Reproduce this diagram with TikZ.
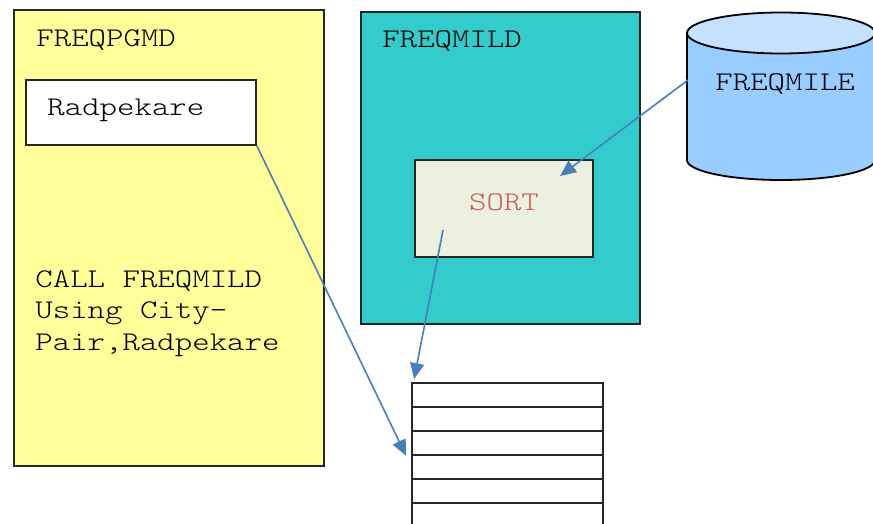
\documentclass[tikz,border=0pt]{standalone}
\usepackage{fontspec}
\setmonofont{lmmonolt10-regular.otf}[FakeStretch=1.23]
\usepackage{xcolor}
\usetikzlibrary{arrows.meta,fit}

\definecolor{pgmdyellow}{HTML}{FFFF99}
\definecolor{mildteal}{HTML}{33CCCC}
\definecolor{sortfill}{HTML}{EBF0DF}
\definecolor{sorttext}{HTML}{C86060}
\definecolor{cylbody}{HTML}{99CCFF}
\definecolor{cyltop}{HTML}{C4E1FF}
\definecolor{flowblue}{HTML}{4A7EBB}

\begin{document}
\begin{tikzpicture}[x=0.5pt,y=-0.5pt,
    box/.style={draw=black!85,line width=0.9pt,inner sep=0pt},
    lbl/.style={inner sep=0pt,anchor=base west,font=\ttfamily\fontsize{13.5}{15.75}\selectfont},
    flow/.style={draw=flowblue,line width=0.8pt,-{Triangle[length=8pt,width=7pt]}}]
        \useasboundingbox (0,0) rectangle (873,524);
        \clip (0,0) rectangle (873,524);

        % Calling program
        \node[box,fill=pgmdyellow,fit={(14,10) (324,466)}] (pgmd) {};
        \node[lbl] (pgmdname) at (36,47) {FREQPGMD};
        \node[box,fill=white,fit={(26,80) (256,145)}] (rad) {};
        \node[lbl] (radname) at (47,116) {Radpekare};
        \node[lbl,align=left] (call) at (35,350) {CALL FREQMILD\\Using City-\\Pair,Radpekare};

        % Called program with its sort step
        \node[box,fill=mildteal,fit={(361,12) (640,324)}] (mild) {};
        \node[lbl] (mildname) at (382,48) {FREQMILD};
        \node[box,fill=sortfill,fit={(415,160) (593,257)}] (sort) {};
        \node[lbl,text=sorttext,anchor=base] (sortname) at (504,210) {SORT};

        % Input file
        \fill[cylbody] (687,33) -- (687,160) arc[start angle=180,end angle=0,x radius=94,y radius=20] -- (875,33) -- cycle;
        \draw[line width=0.9pt] (687,33) -- (687,160) arc[start angle=180,end angle=0,x radius=94,y radius=20] -- (875,33);
        \draw[line width=0.9pt,fill=cyltop] (781,33) ellipse[x radius=94,y radius=20.5];
        \node[lbl] (mile) at (715,91) {FREQMILE};

        % Table rows
        \foreach \i in {0,...,5} {
            \node[box,fill=white,fit={(412,{383+24*\i}) (603,{407+24*\i})}] (row\i) {};
        }

        % Data flow
        \coordinate (mileport) at (688,80);
        \coordinate (sortin) at (560,176);
        \coordinate (sortout) at (443,230);
        \draw[flow] (mileport) -- (sortin);
        \draw[flow] (sortout) -- ([xshift=1.5pt,yshift=1.5pt]row0.north west);
        \draw[flow] (rad.south east) -- ([xshift=-2.5pt]row2.south west);
    \end{tikzpicture}
\end{document}
